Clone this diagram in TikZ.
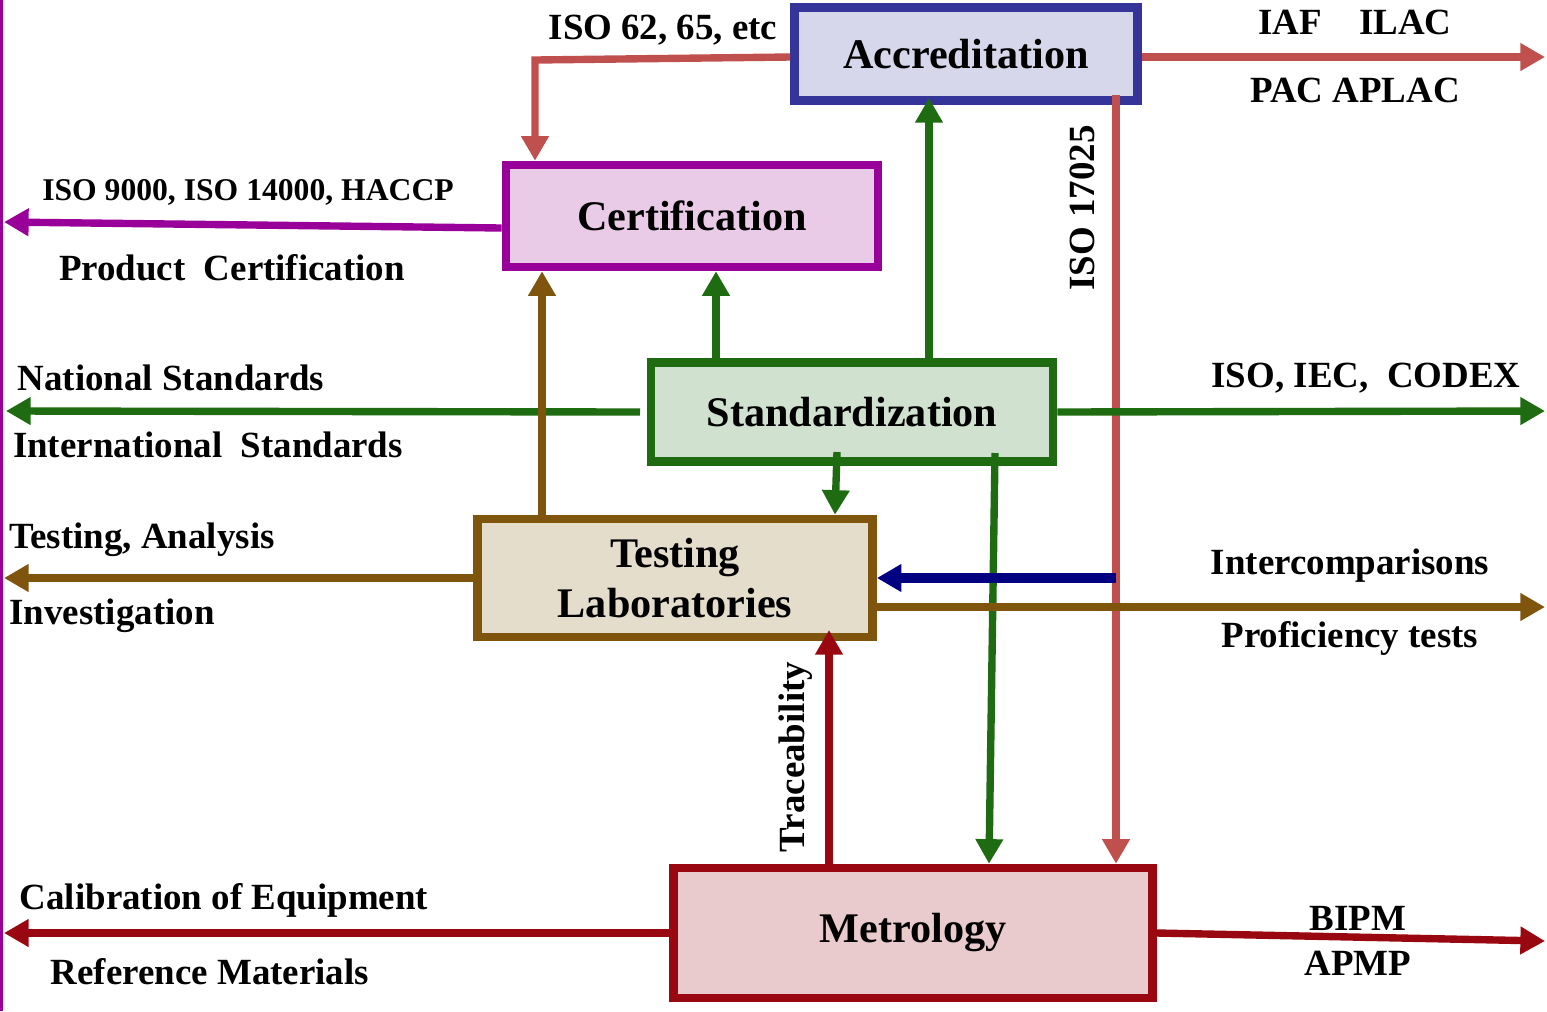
\documentclass[tikz,border=0pt]{standalone}
\usepackage{fontspec}
\setmainfont{Liberation Serif}
\usetikzlibrary{arrows.meta}
\definecolor{accline}{HTML}{353599}
\definecolor{accfill}{HTML}{D6D7EA}
\definecolor{certline}{HTML}{990099}
\definecolor{certfill}{HTML}{EACBE7}
\definecolor{stdline}{HTML}{1E6B12}
\definecolor{stdfill}{HTML}{D0E2CF}
\definecolor{labline}{HTML}{7F550E}
\definecolor{labfill}{HTML}{E4DDCC}
\definecolor{metline}{HTML}{990810}
\definecolor{metfill}{HTML}{EACBCD}
\definecolor{redline}{HTML}{C0504D}
\definecolor{navyline}{HTML}{000080}
\tikzset{
  box/.style={draw, line width=2.4pt, inner sep=0pt, align=center,
    font=\bfseries\fontsize{12}{14}\selectfont},
  lbl/.style={inner sep=0pt, font=\bfseries\fontsize{10.5}{12}\selectfont},
  link/.style={line width=2.1pt, -{Triangle[length=7pt,width=7.5pt]}},
}
\begin{document}
\begin{tikzpicture}[x=0.01cm,y=-0.01cm]
      \useasboundingbox (0,0) rectangle (1547,1011);
      \draw[certline, line width=1pt] (1,0) -- (1,1011);
      \draw
        (966,54) node[box, draw=accline, fill=accfill, minimum width=3.43cm, minimum height=0.93cm] (acc){Accreditation}
        (692,216) node[box, draw=certline, fill=certfill, minimum width=3.72cm, minimum height=1.02cm] (cert){Certification}
        (852,412) node[box, draw=stdline, fill=stdfill, minimum width=4.02cm, minimum height=0.99cm] (std){Standardization}
        (675,578) node[box, draw=labline, fill=labfill, minimum width=3.95cm, minimum height=1.18cm] (lab){Testing\\Laboratories}
        (913,933) node[box, draw=metline, fill=metfill, minimum width=4.79cm, minimum height=1.3cm] (met){Metrology};
      \draw
        (663,30) node[lbl] (l62){ISO 62, 65, etc}
        (1355,22) node[lbl] (liaf){IAF\quad ILAC}
        (1355,90) node[lbl] (lpac){PAC APLAC}
        (1082,208) node[lbl, rotate=90] (l17025){ISO 17025}
        (248,192) node[lbl, font=\bfseries\fontsize{9}{11}\selectfont] (l9000){ISO 9000, ISO 14000, HACCP}
        (232,268) node[lbl] (lprod){Product\ \ Certification}
        (171,378) node[lbl] (lnat){National Standards}
        (208,445) node[lbl] (lint){International\ \ Standards}
        (1366,378) node[lbl] (liso){ISO, IEC,\ \ CODEX}
        (142,540) node[lbl] (ltest){Testing, Analysis}
        (112,616) node[lbl] (linv){Investigation}
        (1350,566) node[lbl] (linter){Intercomparisons}
        (1350,638) node[lbl] (lprof){Proficiency tests}
        (796,757) node[lbl, rotate=90] (ltrace){Traceability}
        (224,900) node[lbl] (lcal){Calibration of Equipment}
        (210,972) node[lbl] (lref){Reference Materials}
        (1358,918) node[lbl] (lbipm){BIPM}
        (1358,963) node[lbl] (lapmp){APMP};
      \coordinate (cert out) at (4,222);
      \coordinate (acc out) at (1545,57);
      \coordinate (std left) at (6,411);
      \coordinate (std right) at (1545,411);
      \coordinate (lab left) at (4,578);
      \coordinate (lab right) at (1545,607);
      \coordinate (met left) at (4,933);
      \coordinate (met right) at (1545,941);
      \coordinate (iso bend) at (535,60);
      \coordinate (iso top) at (1116,95);
      \coordinate (inter) at (1116,578);
      \begin{scope}[link]
        \draw[redline] (acc.west |- 0,57) -- (iso bend) -- (cert.north -| iso bend);
        \draw[redline] (acc.east |- acc out) -- (acc out);
        \draw[redline] (iso top) -- (met.north -| iso top);
        \draw[certline] (cert.west |- 0,228) -- (cert out);
        \draw[stdline] (std.north -| 716,0) -- (cert.south -| 716,0);
        \draw[stdline] (std.north -| 929,0) -- (929,98);
        \draw[stdline] (std.west -| 640,0) -- (std left);
        \draw[stdline] (std.east) -- (std right);
        \draw[stdline] (837,452) -- (lab.north -| 835,0);
        \draw[stdline] (995,453) -- (met.north -| 989,0);
        \draw[labline] (lab.north -| 542,0) -- (cert.south -| 542,0);
        \draw[labline] (lab.west) -- (lab left);
        \draw[labline] (lab.east |- lab right) -- (lab right);
        \draw[navyline, line width=2.6pt] (inter) -- (lab.east |- inter);
        \draw[metline] (met.north -| 829,0) -- (829,630);
        \draw[metline] (met.west) -- (met left);
        \draw[metline] (met.east) -- (met right);
      \end{scope}
    \end{tikzpicture}
\end{document}
